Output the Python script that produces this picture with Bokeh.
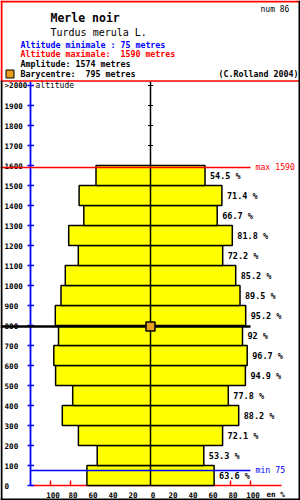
from bokeh.plotting import figure
from bokeh.models import Range1d
from bokeh.core.properties import value
from bokeh.embed import file_html
from bokeh.resources import INLINE

# ---- data ----
band_bottoms = [0, 100, 200, 300, 400, 500, 600, 700, 800, 900, 1000, 1100, 1200, 1300, 1400, 1500]
band_pcts = [63.6, 53.3, 72.1, 88.2, 77.8, 94.9, 96.7, 92, 95.2, 89.5, 85.2, 72.2, 81.8, 66.7, 71.4, 54.5]
alt_ticks = [0, 100, 200, 300, 400, 500, 600, 700, 800, 900, 1000, 1100, 1200, 1300, 1400, 1500,
             1600, 1700, 1800, 1900, 2000]
alt_tick_labels = ["0", "100", "200", "300", "400", "500", "600", "700", "800", "900", "1000", "1100",
                   "1200", "1300", "1400", "1500", "1600", "1700", "1800", "1900", ">2000"]
pct_ticks = [-100, -80, -60, -40, -20, 0, 20, 40, 60, 80, 100]
pct_tick_labels = ["100", "80", "60", "40", "20", "0", "20", "40", "60", "80", "100"]
red_pct_ticks = [-100, -80, 80, 100]
alt_min = 75
alt_max = 1590
amplitude = 1574
barycentre = 795
species = "Merle noir"
latin = "Turdus merula L."
num = 86
band_height = 100

MONO = value("DejaVu Sans Mono")
SP = "\u00a0"

# pixel helpers (layout only)
def X(px):
    return px - 150
def Y(py):
    return (485 - py) * 5

p = figure(width=300, height=500, x_range=Range1d(-150, 150), y_range=Range1d(Y(500), Y(0)),
           output_backend="svg", toolbar_location=None, min_border=0,
           x_axis_location=None, y_axis_location=None)
p.grid.visible = False
p.outline_line_color = None
p.background_fill_color = "white"
p.border_fill_color = "white"

# red baseline + red ticks (behind bars)
p.segment(x0=[X(30)], y0=[0], x1=[X(281)], y1=[0], line_color="#FF0000", line_width=1.5)
p.segment(x0=red_pct_ticks, y0=[0] * 4, x1=red_pct_ticks, y1=[25] * 4, line_color="#FF0000", line_width=1.5)

# bars
p.quad(left=[-v for v in band_pcts], right=band_pcts, bottom=band_bottoms,
       top=[b + band_height for b in band_bottoms], fill_color="#FFFF00", line_color="black", line_width=1.5)

# percentage labels
p.text(x=[v + 5 for v in band_pcts], y=[b + band_height / 2 for b in band_bottoms],
       text=[f"{v:g}{SP}%" for v in band_pcts], text_font=MONO, text_font_size="8.5px",
       text_font_style="bold", text_baseline="middle", text_align="left", text_color="black")

# center axis with ticks
p.segment(x0=[0], y0=[0], x1=[0], y1=[Y(81)], line_color="black", line_width=1.5)
p.segment(x0=[-2.5] * len(alt_ticks), y0=alt_ticks, x1=[2.5] * len(alt_ticks), y1=alt_ticks,
          line_color="black", line_width=1.2)

# left blue altitude axis
p.segment(x0=[X(30)], y0=[0], x1=[X(30)], y1=[Y(81)], line_color="#0000FF", line_width=1.8)
p.segment(x0=[X(27)] * len(alt_ticks), y0=alt_ticks, x1=[X(33.5)] * len(alt_ticks), y1=alt_ticks,
          line_color="#0000FF", line_width=1.5)
p.text(x=[X(4)] * len(alt_ticks), y=alt_ticks, text=alt_tick_labels, text_font=MONO,
       text_font_size="7.6px", text_font_style="bold", text_baseline="middle", text_align="left")
p.text(x=[X(35)], y=[2000], text=["altitude"], text_font=MONO, text_font_size="8px",
       text_baseline="middle", text_align="left")

# bottom percentage labels
p.text(x=[t + 2.5 for t in pct_ticks], y=[Y(494)] * len(pct_ticks), text=pct_tick_labels,
       text_font=MONO, text_font_size="7.6px", text_font_style="bold",
       text_baseline="middle", text_align="center")
p.text(x=[X(266)], y=[Y(494)], text=[f"en{SP}%"], text_font=MONO, text_font_size="7.6px",
       text_font_style="bold", text_baseline="middle", text_align="left")

# max / min lines
p.segment(x0=[X(0)], y0=[alt_max], x1=[X(250)], y1=[alt_max], line_color="#FF0000", line_width=1.5)
p.text(x=[X(255)], y=[alt_max], y_offset=[-1], text=[f"max{SP}{alt_max}"], text_font=MONO,
       text_font_size="8.2px", text_baseline="middle", text_align="left", text_color="#FF0000")
p.segment(x0=[X(30)], y0=[alt_min], x1=[X(250)], y1=[alt_min], line_color="#0000FF", line_width=1.5)
p.text(x=[X(255)], y=[alt_min], y_offset=[-1], text=[f"min{SP}{alt_min}"], text_font=MONO,
       text_font_size="8.2px", text_baseline="middle", text_align="left", text_color="#0000FF")

# barycentre
p.segment(x0=[X(0)], y0=[barycentre], x1=[X(250)], y1=[barycentre], line_color="black", line_width=2.6)
p.scatter(x=[0], y=[barycentre], marker="square", size=9, fill_color="#E8A01E",
          line_color="black", line_width=1.5)

# header
p.text(x=[X(260)], y=[Y(9)], text=[f"num{SP}{num}"], text_font=MONO, text_font_size="8px",
       text_baseline="middle", text_align="left")
p.text(x=[X(50)], y=[Y(17)], text=[species], text_font=MONO, text_font_size="11.5px",
       text_font_style="bold", text_baseline="middle", text_align="left")
p.text(x=[X(50)], y=[Y(32)], text=[latin], text_font=MONO, text_font_size="10px",
       text_baseline="middle", text_align="left")
p.text(x=[X(20)], y=[Y(44)], text=[f"Altitude minimale : {alt_min} metres".replace(" ", SP)], text_font=MONO,
       text_font_size="8.3px", text_font_style="bold", text_baseline="middle", text_align="left",
       text_color="#0000FF")
p.text(x=[X(20)], y=[Y(53.5)], text=[f"Altitude maximale:  {alt_max} metres".replace(" ", SP)], text_font=MONO,
       text_font_size="8.3px", text_font_style="bold", text_baseline="middle", text_align="left",
       text_color="#FF0000")
p.text(x=[X(20)], y=[Y(63.5)], text=[f"Amplitude: {amplitude} metres".replace(" ", SP)], text_font=MONO,
       text_font_size="8.3px", text_font_style="bold", text_baseline="middle", text_align="left")
p.text(x=[X(20)], y=[Y(73.5)], text=[f"Barycentre:  {barycentre} metres".replace(" ", SP)], text_font=MONO,
       text_font_size="8.3px", text_font_style="bold", text_baseline="middle", text_align="left")
p.text(x=[X(298)], y=[Y(73.5)], text=["(C.Rolland 2004)".replace(" ", SP)], text_font=MONO,
       text_font_size="8.3px", text_font_style="bold", text_baseline="middle", text_align="right")
p.scatter(x=[X(9.5)], y=[Y(73.5)], marker="square", size=8, fill_color="#E8A01E",
          line_color="black", line_width=1)

# header separator + borders
p.segment(x0=[X(0)], y0=[Y(80.5)], x1=[X(300)], y1=[Y(80.5)], line_color="#FF0000", line_width=1.5)
p.segment(x0=[X(0), X(1)], y0=[Y(1), Y(0)], x1=[X(300), X(1)], y1=[Y(1), Y(80)],
          line_color="#FF0000", line_width=2)
p.segment(x0=[X(1), X(299), X(0)], y0=[Y(80), Y(0), Y(499)], x1=[X(1), X(299), X(300)],
          y1=[Y(500), Y(500), Y(499)], line_color="black", line_width=2)

open("out.html", "w").write(file_html(p, INLINE))
